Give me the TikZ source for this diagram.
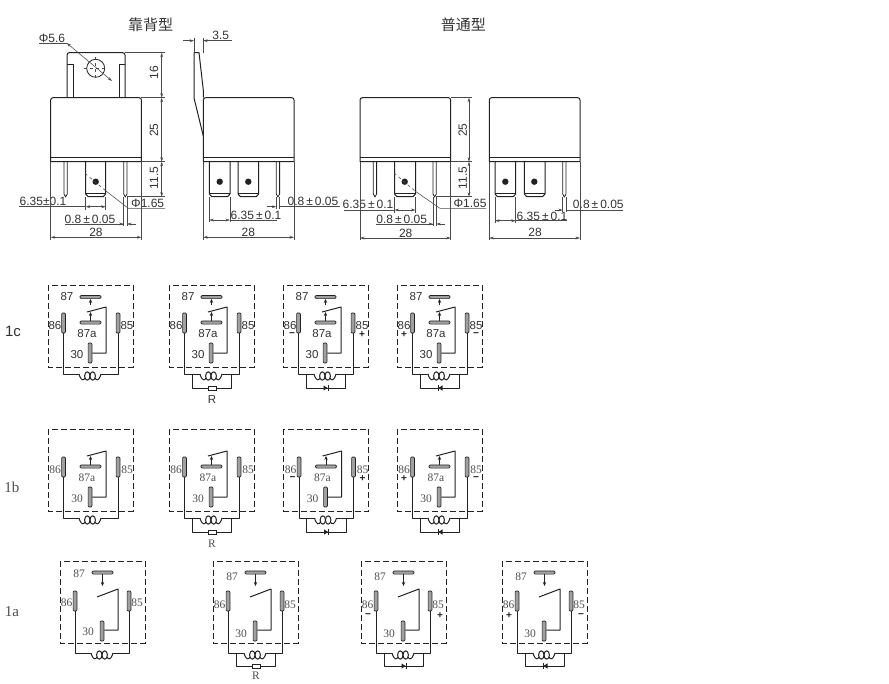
\documentclass[tikz,border=0pt]{standalone}
\usepackage{fontspec}
\setmainfont{Liberation Serif}
\setsansfont{Liberation Sans}
\newfontfamily\cjkf{Noto Sans CJK SC}
\usetikzlibrary{arrows.meta}
\definecolor{ink}{HTML}{222222}
\definecolor{dimc}{HTML}{4A4A4A}
\definecolor{txt}{HTML}{333333}
\definecolor{stxt}{HTML}{505050}
\definecolor{pinc}{HTML}{A0A0A0}
\tikzset{
  line/.style={draw=ink,line width=1pt,line join=round},
  wire/.style={draw=ink,line width=1pt,line join=round},
  dimline/.style={draw=dimc,line width=.55pt,>={Stealth[length=4.5pt,width=2.8pt]}},
  dimtext/.style={font=\sffamily\fontsize{12}{13}\selectfont,text=txt,inner sep=0pt},
  sanslab/.style={font=\sffamily\fontsize{11.5}{12}\selectfont,text=txt,inner sep=0pt},
  seriflab/.style={font=\rmfamily\fontsize{11.5}{12}\selectfont,text=stxt,inner sep=0pt},
  signlab/.style={font=\sffamily\bfseries\fontsize{10}{10}\selectfont,text=ink,inner sep=0pt},
  dashbox/.style={draw=ink,line width=1pt,dash pattern=on 6pt off 3pt},
  vpin/.style={draw=ink,line width=.7pt,fill=pinc,rounded corners=1pt,inner sep=0pt,minimum width=3.8pt,minimum height=#1},
  hbar/.style={draw=ink,line width=.7pt,fill=pinc,rounded corners=1.2pt,inner sep=0pt,minimum width=21pt,minimum height=3.2pt},
  resbox/.style={draw=ink,line width=.7pt,fill=white,inner sep=0pt,minimum width=8pt,minimum height=3.8pt},
  arr/.style={draw=ink,line width=.7pt,-{Stealth[length=4pt,width=3.4pt]}},
}
% --- mechanical views ---
\newcommand\relaybody[1]{%
  \draw[line,fill=white] (#1,161.7) -- (#1,100) arc[start angle=180,end angle=90,x radius=2.3,y radius=-2.3]
    -- (#1+88.4,97.7) arc[start angle=90,end angle=0,x radius=2.3,y radius=-2.3] -- (#1+90.7,161.7) -- cycle;
  \draw[line] (#1,157.3) -- (#1+90.7,157.3);}
\newcommand\blade[2]{%
  \draw[line] (#1,161.7) -- (#1,194) -- (#1+2.5,196.7) -- (#1+#2-2.5,196.7) -- (#1+#2,194) -- (#1+#2,161.7);
  \draw[draw=ink,line width=.4pt] (#1,192.7) -- (#1+#2,192.7);}
\newcommand\thinpin[1]{%
  \draw[line,line width=.8pt] (#1,161.7) -- (#1,194) -- (#1+1.6,197) -- (#1+3.3,194) -- (#1+3.3,161.7);}
\newcommand\bdot[1]{\fill[ink] (#1,181.7) circle[radius=3.2];}
% --- circuits ---
\newcommand\coilpart[2]{% prefix, wire y
  \coordinate (#1cl) at (31,#2);
  \coordinate (#1cr) at (53,#2);
  \draw[wire] (#1p86.south) |- (#1cl);
  \draw[wire] (#1p85.south) |- (#1cr);
  \draw[wire] (#1cl) .. controls (33,#2+7) and (35.5,#2+7) .. (37,#2+4);
  \draw[wire] (#1cr) .. controls (51,#2+7) and (48.5,#2+7) .. (47,#2+4);
  \draw[wire] (39.3,#2+2) ellipse[x radius=2.7,y radius=4.2];
  \draw[wire] (44.7,#2+2) ellipse[x radius=2.7,y radius=4.2];
}
\newcommand\relayCB[4]{% prefix, x, y, 1 if 87 shown
  \begin{scope}[shift={(#2,#3)}]
    \draw[dashbox] (0,0) rectangle (85,82);
    \node[vpin=20pt] (#1p86) at (15.5,38) {};
    \node[vpin=20pt] (#1p85) at (70,38) {};
    \node[vpin=20pt] (#1p30) at (42,68) {};
    \node[hbar] (#1b87a) at (42.5,37.5) {};
    \coordinate (#1a1) at (39,27);
    \coordinate (#1a2) at (58,22);
    \draw[wire] (#1a1) -- (#1a2) -- (58,68) -- (#1p30.east |- 0,68);
    \draw[arr] (#1b87a.north -| 42.5,0) -- (42.5,27);
    \ifnum#4=1
      \node[hbar] (#1b87) at (42.5,12) {};
      \draw[arr] (42.5,20) -- (#1b87.south);
      \node[#1sty] (#1l87) at (19,12) {87};
    \fi
    \node[#1sty] (#1l87a) at (39,49) {87a};
    \node[#1sty] (#1l30) at (29,70) {30};
    \node[#1sty] (#1l86) at (7,40.5) {86};
    \node[#1sty] (#1l85) at (79,40.5) {85};
    \coilpart{#1}{89}
  \end{scope}}
\newcommand\relayA[6]{% prefix,x,y,87 label y,30 label y,86 label y
  \begin{scope}[shift={(#2,#3)}]
    \draw[dashbox] (0,0) rectangle (85,82);
    \node[vpin=20pt] (#1p86) at (15,40) {};
    \node[vpin=20pt] (#1p85) at (69,40) {};
    \node[vpin=20pt] (#1p30) at (42,70) {};
    \node[hbar] (#1b87) at (42.5,11.5) {};
    \draw[arr] (#1b87.south -| 42.5,0) -- (42.5,25);
    \coordinate (#1a1) at (37,36);
    \coordinate (#1a2) at (58,28);
    \draw[wire] (#1a1) -- (#1a2) -- (58,69) -- (#1p30.east |- 0,69);
    \node[seriflab] (#1l87) at (19,#4) {87};
    \node[seriflab] (#1l30) at (28,#5) {30};
    \node[seriflab] (#1l86) at (6.5,#6) {86};
    \node[seriflab] (#1l85) at (77,#6) {85};
    \coilpart{#1}{92}
  \end{scope}}
\newcommand\rloop[7]{% name,x,y,wire y,bottom y,label y,labelstyle
  \begin{scope}[shift={(#2,#3)}]
    \coordinate (#1tl) at (23,#4);
    \coordinate (#1tr) at (62.5,#4);
    \node[resbox] (#1r) at (43,#5) {};
    \draw[wire] (#1tl) |- (#1r.west);
    \draw[wire] (#1tr) |- (#1r.east);
    \node[#7] (#1rl) at (43,#6) {R};
  \end{scope}}
\newcommand\dloop[6]{% name,x,y,wire y,bottom y,dir(+1 right, -1 left)
  \begin{scope}[shift={(#2,#3)}]
    \coordinate (#1tl) at (23,#4);
    \coordinate (#1tr) at (62.5,#4);
    \coordinate (#1d) at (43,#5);
    \draw[wire] (#1tl) |- (#1d);
    \draw[wire] (#1tr) |- (#1d);
    \fill[ink] (43-2.5*#6,#5-2.6) -- (43+1.6*#6,#5) -- (43-2.5*#6,#5+2.6) -- cycle;
    \draw[draw=ink,line width=1pt] (43+2*#6,#5-2.8) -- (43+2*#6,#5+2.8);
  \end{scope}}
\newcommand\signpair[7]{% name,x,y, left sign, right sign, sign y, left sign x
  \begin{scope}[shift={(#2,#3)}]
    \node[signlab] (#1sl) at (#7,#6) {#4};
    \node[signlab] (#1sr) at (79,#6) {#5};
  \end{scope}}
\begin{document}
\begin{tikzpicture}[x=1pt,y=-1pt]
\useasboundingbox (0,0) rectangle (889,683);
\fill[white] (0,0) rectangle (889,683);
% titles
\node[font=\cjkf\fontsize{15}{16}\selectfont,text=txt,inner sep=0pt] (t1) at (150.7,24.7) {靠背型};
\node[font=\cjkf\fontsize{15}{16}\selectfont,text=txt,inner sep=0pt] (t2) at (463.3,24.7) {普通型};

% ===== View A =====
\draw[line,fill=white] (67,97.7) -- (67,55) arc[start angle=180,end angle=90,x radius=2.3,y radius=-2.3] -- (122.7,52.7) arc[start angle=90,end angle=0,x radius=2.3,y radius=-2.3] -- (125,97.7);
\draw[line] (67,64.5) -- (73,64.5) -- (73,97.7);
\draw[line] (125,64.5) -- (119,64.5) -- (119,97.7);
\draw[draw=ink,line width=.8pt] (95.7,68.3) circle[radius=9];
\draw[dimline,dashed] (95.7,57) -- (95.7,80);
\draw[dimline,dashed] (84,68.3) -- (107,68.3);
\draw[dimline] (39,43) -- (66.7,43);
\draw[dimline,<->] (66.7,43) -- (112,81);
\node[dimtext] (a56) at (52,38.7) {Φ5.6};
\relaybody{50.7}
\thinpin{64}\blade{85.7}{20}\thinpin{123.7}\bdot{95.7}
% A dims
\draw[dimline] (125,52.7) -- (165,52.7) (141.4,97.7) -- (165,97.7) (141.4,161.7) -- (165,161.7) (127,196.7) -- (165,196.7);
\draw[dimline,<->] (161.7,52.7) -- (161.7,97.7);
\draw[dimline,<->] (161.7,97.7) -- (161.7,161.7);
\draw[dimline,<->] (161.7,161.7) -- (161.7,196.7);
\node[dimtext,rotate=90] (a16) at (154,72.7) {16};
\node[dimtext,rotate=90] (a25) at (154,130) {25};
\node[dimtext,rotate=90] (a115) at (154,178) {11.5};
\node[dimtext] (a635) at (43,201.7) {6.35±0.1};
\draw[dimline] (19,206.7) -- (85.7,206.7) (85.7,196.7) -- (85.7,210) (105.7,196.7) -- (105.7,210);
\draw[dimline,<->] (85.7,206.7) -- (105.7,206.7);
\draw[dimline,dashed] (85,173.3) -- (106,191);
\draw[dimline] (106,191) -- (128.3,208.3) -- (165,208.3);
\node[dimtext] (a165) at (147.7,203.5) {Φ1.65};
\node[dimtext] (a08) at (90,219.3) {0.8\,±\,0.05};
\draw[dimline] (65,224) -- (123.7,224) (123.7,197) -- (123.7,226) (127,197) -- (127,226);
\draw[dimline,<-] (123.7,224) -- (115,224);
\draw[dimline,<-] (127,224) -- (136,224);
\draw[dimline] (50.7,161.7) -- (50.7,240) (141.4,161.7) -- (141.4,240);
\draw[dimline,<->] (50.7,237.3) -- (141.4,237.3);
\node[dimtext] (a28) at (96,232) {28};

% ===== View B =====
\draw[line,fill=white] (203.3,136) -- (194,98) -- (194,52.7) -- (199,52.7) -- (203.3,90) -- (203.3,97.7);
\relaybody{203.3}
\blade{209.3}{20.7}\blade{238}{20.7}\thinpin{276.3}\bdot{219.7}\bdot{248.3}
\draw[dimline] (194,38) -- (194,52.7) (203.3,38) -- (203.3,52.7);
\draw[dimline] (203.3,40.7) -- (231.7,40.7);
\draw[dimline,<-] (194,40.7) -- (183,40.7);
\draw[dimline,<-] (203.3,40.7) -- (212,40.7);
\node[dimtext] (b35) at (220.7,35.5) {3.5};
\node[dimtext] (b635) at (256,215) {6.35\,±\,0.1};
\draw[dimline] (230,220) -- (276.7,220) (209.3,196.7) -- (209.3,222) (230,196.7) -- (230,222);
\draw[dimline,<->] (209.3,220) -- (230,220);
\node[dimtext] (b08) at (313,201.5) {0.8\,±\,0.05};
\draw[dimline] (279.6,206.7) -- (340,206.7) (276.3,197) -- (276.3,209) (279.6,197) -- (279.6,209);
\draw[dimline,<-] (276.3,206.7) -- (267,206.7);
\draw[dimline] (203.3,161.7) -- (203.3,240) (294,161.7) -- (294,240);
\draw[dimline,<->] (203.3,237.3) -- (294,237.3);
\node[dimtext] (b28) at (248.3,232) {28};

% ===== View C =====
\relaybody{360}
\thinpin{373.3}\blade{394.5}{21}\thinpin{433}\bdot{404.7}
\draw[dimline] (450.7,97.7) -- (472,97.7) (450.7,161.7) -- (472,161.7) (436.3,196.7) -- (472,196.7);
\draw[dimline,<->] (469,97.7) -- (469,161.7);
\draw[dimline,<->] (469,161.7) -- (469,196.7);
\node[dimtext,rotate=90] (c25) at (462.7,130) {25};
\node[dimtext,rotate=90] (c115) at (462.7,178) {11.5};
\node[dimtext] (c635) at (368,204.5) {6.35\,±\,0.1};
\draw[dimline] (344,210) -- (394.5,210) (394.5,196.7) -- (394.5,213) (415.5,196.7) -- (415.5,213);
\draw[dimline,<->] (394.5,210) -- (415.5,210);
\draw[dimline,dashed] (394,173) -- (415,191);
\draw[dimline] (415,191) -- (440,208.3) -- (486,208.3);
\node[dimtext] (c165) at (470,203) {Φ1.65};
\node[dimtext] (c08) at (401.7,219.3) {0.8\,±\,0.05};
\draw[dimline] (376,224) -- (433,224) (433,197) -- (433,226) (436.3,197) -- (436.3,226);
\draw[dimline,<-] (433,224) -- (425,224);
\draw[dimline,<-] (436.3,224) -- (445,224);
\draw[dimline] (360,161.7) -- (360,240) (450.7,161.7) -- (450.7,240);
\draw[dimline,<->] (360,238) -- (450.7,238);
\node[dimtext] (c28) at (405.7,233) {28};

% ===== View D =====
\relaybody{489.3}
\blade{495}{20.7}\blade{524.3}{20.7}\thinpin{562.7}\bdot{505.3}\bdot{534.3}
\node[dimtext] (d635) at (542,216) {6.35\,±\,0.1};
\draw[dimline] (515.7,220.7) -- (566.7,220.7) (495,196.7) -- (495,223) (515.7,196.7) -- (515.7,223);
\draw[dimline,<->] (495,220.7) -- (515.7,220.7);
\node[dimtext] (d08) at (598.3,204) {0.8\,±\,0.05};
\draw[dimline] (566,210) -- (623,210) (562.7,197) -- (562.7,212) (566,197) -- (566,212);
\draw[dimline,<-] (562.7,210) -- (555,210);
\draw[dimline] (489.3,161.7) -- (489.3,240) (580,161.7) -- (580,240);
\draw[dimline,<->] (489.3,238) -- (580,238);
\node[dimtext] (d28) at (535,232) {28};

% ===== Row labels =====
\node[font=\sffamily\fontsize{15}{16}\selectfont,text=txt,inner sep=0pt] (r1c) at (13,331) {1c};
\node[font=\rmfamily\fontsize{15}{16}\selectfont,text=stxt,inner sep=0pt] (r1b) at (12,487) {1b};
\node[font=\rmfamily\fontsize{15}{16}\selectfont,text=stxt,inner sep=0pt] (r1a) at (12,612) {1a};

% ===== Row 1c =====
\tikzset{ca sty/.style={sanslab},cb sty/.style={sanslab},cc sty/.style={sanslab},cd sty/.style={sanslab}}
\relayCB{ca }{48}{285}{1}
\relayCB{cb }{169}{285}{1}
\relayCB{cc }{283}{285}{1}
\relayCB{cd }{397}{285}{1}
\rloop{cbl}{169}{285}{89}{103}{115}{sanslab}
\dloop{ccl}{283}{285}{89}{103}{1}
\dloop{cdl}{397}{285}{89}{103}{-1}
\signpair{ccs}{283}{285}{\textminus}{+}{50}{9}
\signpair{cds}{397}{285}{+}{\textminus}{50}{7}

% ===== Row 1b =====
\tikzset{ba sty/.style={seriflab},bb sty/.style={seriflab},bc sty/.style={seriflab},bd sty/.style={seriflab}}
\relayCB{ba }{48}{429}{0}
\relayCB{bb }{169}{429}{0}
\relayCB{bc }{283.5}{429}{0}
\relayCB{bd }{397}{429}{0}
\rloop{bbl}{169}{429}{89}{103}{115}{seriflab}
\dloop{bcl}{283.5}{429}{89}{103}{1}
\dloop{bdl}{397}{429}{89}{103}{-1}
\signpair{bcs}{283.5}{429}{\textminus}{+}{50}{9}
\signpair{bds}{397}{429}{+}{\textminus}{50}{7}

% ===== Row 1a =====
\relayA{aa}{60}{561}{13}{71}{42}
\relayA{ab}{213}{561}{16}{73}{44}
\relayA{ac}{361}{561}{16}{73}{44}
\relayA{ad}{502}{561}{16}{73}{44}
\rloop{abl}{213}{561}{92}{105}{115}{seriflab}
\dloop{acl}{361}{561}{92}{105}{1}
\dloop{adl}{502}{561}{92}{105}{-1}
\signpair{acs}{361}{561}{\textminus}{+}{55}{7}
\signpair{ads}{502}{561}{+}{\textminus}{55}{7}
\end{tikzpicture}
\end{document}
